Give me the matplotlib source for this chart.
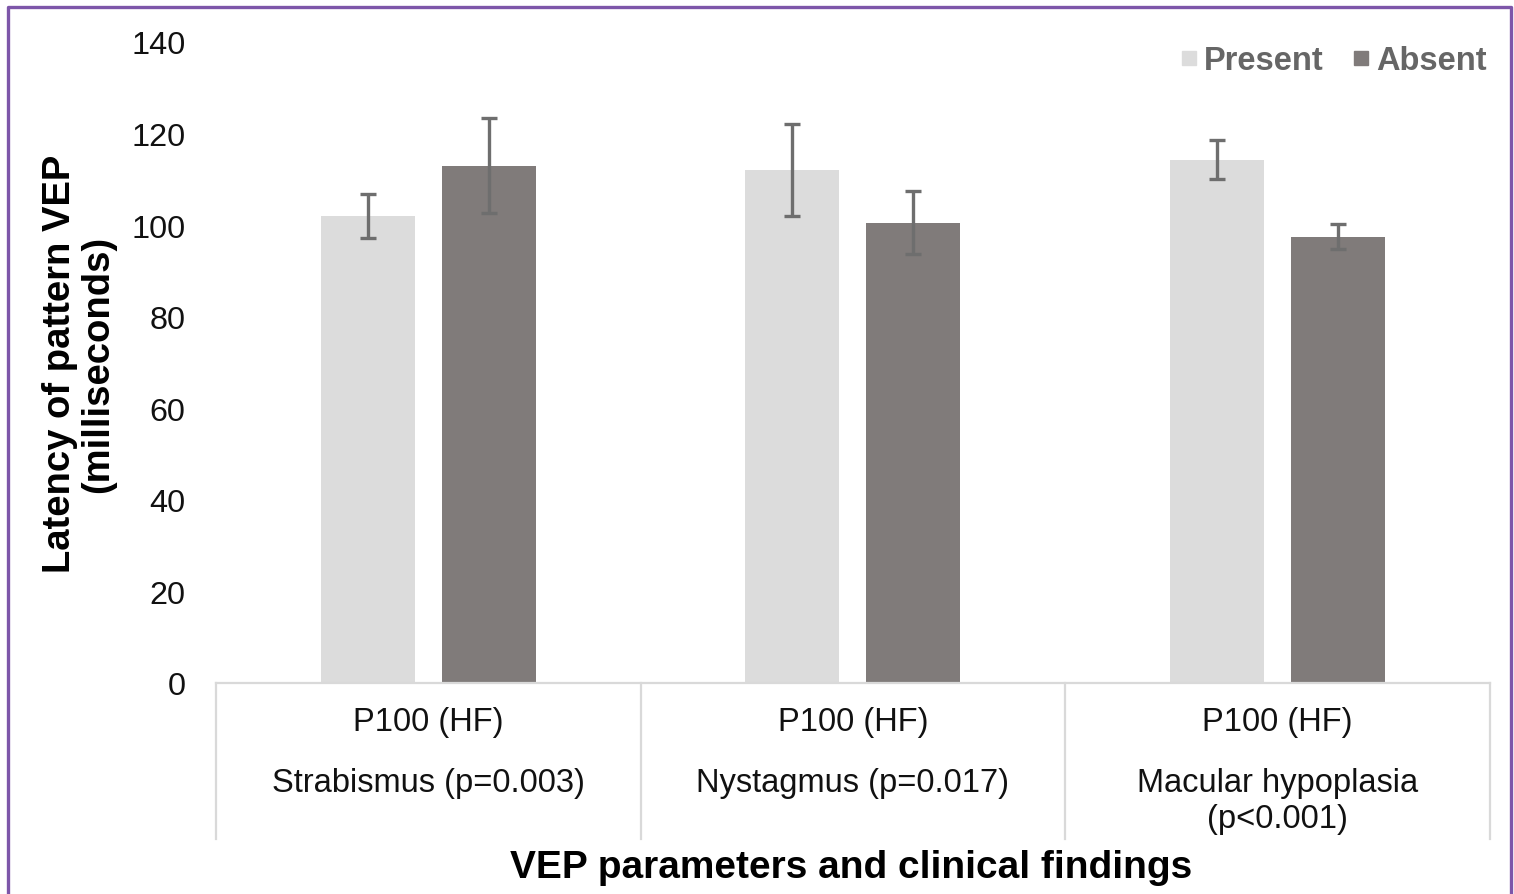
import matplotlib
matplotlib.use('Agg')
import matplotlib.pyplot as plt
from matplotlib.lines import Line2D
import numpy as np

plt.rcParams['font.family'] = ['Liberation Sans', 'DejaVu Sans']

# data
findings = ['Strabismus (p=0.003)', 'Nystagmus (p=0.017)', 'Macular hypoplasia\n(p<0.001)']
parameter = 'P100 (HF)'
present = [101.9, 112.0, 114.3]
present_err = [4.8, 10.0, 4.3]
absent = [113.0, 100.5, 97.5]
absent_err = [10.3, 6.9, 2.7]
yticks = [0, 20, 40, 60, 80, 100, 120, 140]

W, H = 1514, 895
fig = plt.figure(figsize=(W / 100, H / 100), dpi=100)
ax = fig.add_axes([216 / W, 1 - 684 / H, 1273.5 / W, 641 / H])

x = np.arange(len(findings))
bw = 0.222
off = 0.1425
err_kw = dict(ecolor='#6e6e6e', elinewidth=2.4, capsize=5.8, capthick=2.4)
ax.bar(x - off, present, bw, color='#dcdcdc', label='Present', yerr=present_err, error_kw=err_kw, zorder=2)
ax.bar(x + off, absent, bw, color='#807b7a', label='Absent', yerr=absent_err, error_kw=err_kw, zorder=2)

ax.set_xlim(-0.5, len(findings) - 0.5)
ax.set_ylim(0, 140)
ax.set_yticks(yticks)
ax.tick_params(axis='y', length=0, pad=22, labelsize=23.3, labelcolor='#111111')
ax.set_xticks([])
for s in ['top', 'right', 'left']:
    ax.spines[s].set_visible(False)
ax.spines['bottom'].set_color('#d9d9d9')
ax.spines['bottom'].set_linewidth(1.6)

# multi-level category axis: dividers and two label rows
trans = ax.get_xaxis_transform()
div_bottom = -(840 - 684) / 641
for xi in np.arange(len(findings) + 1) - 0.5:
    ax.add_line(Line2D([xi, xi], [0, div_bottom], transform=trans, color='#d9d9d9',
                       lw=1.6, clip_on=False))
for xi, name in zip(x, findings):
    ax.text(xi, -(723 - 684) / 641, parameter, transform=trans, ha='center', va='center',
            fontsize=23.5, color='#111111')
    ax.text(xi, -(768 - 684) / 641, name, transform=trans, ha='center', va='top',
            fontsize=23.5, color='#111111', linespacing=1.2)

fig.text(79 / W, 1 - 364 / H, 'Latency of pattern VEP\n(milliseconds)', rotation=90,
         ha='center', va='center', fontsize=27.5, fontweight='bold', linespacing=1.1)
fig.text(851 / W, 1 - 868 / H, 'VEP parameters and clinical findings', ha='center',
         va='center', fontsize=28, fontweight='bold')

handles = [Line2D([], [], marker='s', ls='', markersize=10.5, color='#dcdcdc'),
           Line2D([], [], marker='s', ls='', markersize=10.5, color='#807b7a')]
fig.legend(handles, ['Present', 'Absent'], loc='center right',
           bbox_to_anchor=(1503 / W, 1 - 62 / H), ncol=2, frameon=False,
           handlelength=0.55, handletextpad=0.2, columnspacing=0.85,
           prop={'weight': 'bold', 'size': 23.5}, labelcolor='#666666', borderpad=0)

# purple frame around the figure (open at the bottom)
bc = '#7d56a9'
ft = fig.transFigure
fig.add_artist(Line2D([8 / W, 8 / W, 1511 / W, 1511 / W], [0, 1 - 8 / H, 1 - 8 / H, 0],
                      transform=ft, color=bc, lw=2.4))

fig.savefig('out.png', dpi=100)
